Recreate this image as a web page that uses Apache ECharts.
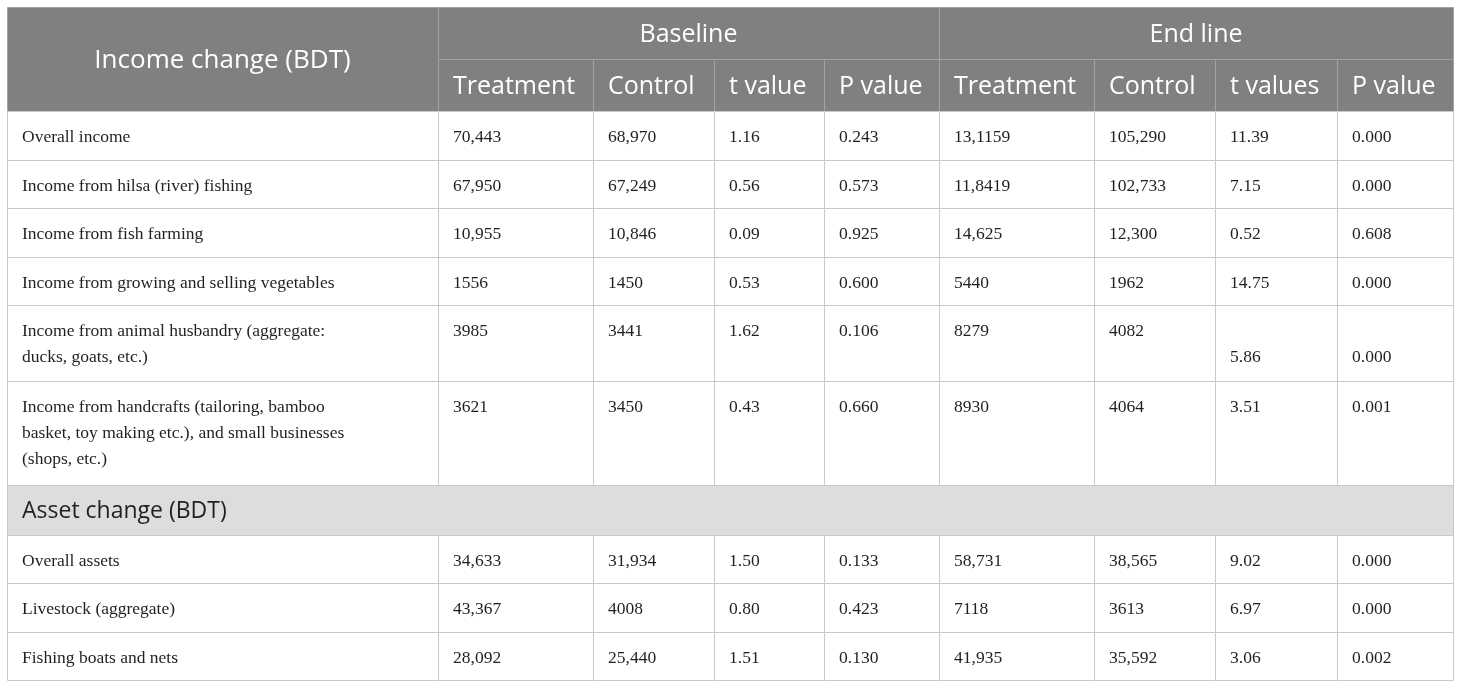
<!DOCTYPE html>
<html>
<head>
<meta charset="utf-8">
<script src="https://cdn.jsdelivr.net/npm/echarts@6/dist/echarts.min.js"></script>
<style>
  html, body { margin: 0; padding: 0; background: #fff; }
  #main { width: 1460px; height: 687px; }
</style>
</head>
<body>
<div id="main"></div>
<script>
/* table data */
const incomeTitle = 'Income change (BDT)';
const assetTitle = 'Asset change (BDT)';
const groupHeaders = ['Baseline', 'End line'];
const subHeaders = ['Treatment', 'Control', 't value', 'P value', 'Treatment', 'Control', 't values', 'P value'];

const incomeLabels = [
    'Overall income',
    'Income from hilsa (river) fishing',
    'Income from fish farming',
    'Income from growing and selling vegetables',
    'Income from animal husbandry (aggregate:\nducks, goats, etc.)',
    'Income from handcrafts (tailoring, bamboo\nbasket, toy making etc.), and small businesses\n(shops, etc.)'
];
const incomeBaseTreatment = ['70,443', '67,950', '10,955', '1556', '3985', '3621'];
const incomeBaseControl = ['68,970', '67,249', '10,846', '1450', '3441', '3450'];
const incomeBaseT = ['1.16', '0.56', '0.09', '0.53', '1.62', '0.43'];
const incomeBaseP = ['0.243', '0.573', '0.925', '0.600', '0.106', '0.660'];
const incomeEndTreatment = ['13,1159', '11,8419', '14,625', '5440', '8279', '8930'];
const incomeEndControl = ['105,290', '102,733', '12,300', '1962', '4082', '4064'];
const incomeEndT = ['11.39', '7.15', '0.52', '14.75', '\n5.86', '3.51'];
const incomeEndP = ['0.000', '0.000', '0.608', '0.000', '\n0.000', '0.001'];

const assetLabels = ['Overall assets', 'Livestock (aggregate)', 'Fishing boats and nets'];
const assetBaseTreatment = ['34,633', '43,367', '28,092'];
const assetBaseControl = ['31,934', '4008', '25,440'];
const assetBaseT = ['1.50', '0.80', '1.51'];
const assetBaseP = ['0.133', '0.423', '0.130'];
const assetEndTreatment = ['58,731', '7118', '41,935'];
const assetEndControl = ['38,565', '3613', '35,592'];
const assetEndT = ['9.02', '6.97', '3.06'];
const assetEndP = ['0.000', '0.000', '0.002'];

/* layout (table units = px offset inside grid) */
const colEdges = [0, 431, 586, 707, 817, 932, 1087, 1208, 1330, 1446];
const rowEdges = [0, 52, 104, 153, 201, 250, 298, 374, 478, 528, 576, 625, 673];

const HEAD = { fill: '#808080', stroke: '#a3a3a3', color: '#ffffff', font: 'Open Sans', size: 25, dy: 2 };
const BODY = { fill: '#ffffff', stroke: '#c9c9c9', color: '#231f20', font: 'Liberation Serif', size: 17.5, dy: 1 };
const SECT = { fill: '#dcdddf', stroke: '#c9c9c9', color: '#231f20', font: 'Open Sans', size: 23, dy: 1 };

let cells = [];
function addCell(c0, c1, r0, r1, text, kind, align) {
    cells.push({
        value: [colEdges[c0], rowEdges[r0], colEdges[c1], rowEdges[r1]],
        text: text, kind: kind, align: align
    });
}

// header
addCell(0, 1, 0, 2, incomeTitle, HEAD, 'center');
addCell(1, 5, 0, 1, groupHeaders[0], HEAD, 'center');
addCell(5, 9, 0, 1, groupHeaders[1], HEAD, 'center');
subHeaders.forEach((s, i) => addCell(i + 1, i + 2, 1, 2, s, HEAD, 'left'));

// body rows
function addRows(startRow, labels, cols) {
    labels.forEach((lab, i) => {
        let r = startRow + i;
        addCell(0, 1, r, r + 1, lab, BODY, 'top');
        cols.forEach((arr, j) => addCell(j + 1, j + 2, r, r + 1, arr[i], BODY, 'top'));
    });
}
addRows(2, incomeLabels, [incomeBaseTreatment, incomeBaseControl, incomeBaseT, incomeBaseP,
    incomeEndTreatment, incomeEndControl, incomeEndT, incomeEndP]);
addCell(0, 9, 8, 9, assetTitle, SECT, 'left');
addRows(9, assetLabels, [assetBaseTreatment, assetBaseControl, assetBaseT, assetBaseP,
    assetEndTreatment, assetEndControl, assetEndT, assetEndP]);

let chart = echarts.init(document.getElementById('main'));
chart.setOption({
    animation: false,
    grid: { left: 7, right: 7, top: 7, bottom: 7 },
    xAxis: { type: 'value', min: 0, max: 1446, show: false },
    yAxis: { type: 'value', min: 0, max: 673, inverse: true, show: false },
    series: [{
        type: 'custom',
        clip: false,
        data: cells.map(c => c.value),
        renderItem: function (params, api) {
            let c = cells[params.dataIndex];
            let p0 = api.coord([api.value(0), api.value(1)]);
            let p1 = api.coord([api.value(2), api.value(3)]);
            let k = c.kind;
            let w = p1[0] - p0[0], h = p1[1] - p0[1];
            let tx, ty, ta = 'left', tv = 'middle';
            let size = k.size;
            if (c.align === 'center') {
                tx = p0[0] + w / 2; ty = p0[1] + h / 2 + k.dy; ta = 'center';
                if (c.text === incomeTitle) size = 26;
            } else if (c.align === 'left') {
                tx = p0[0] + 15; ty = p0[1] + h / 2 + k.dy;
            } else {
                tx = p0[0] + 15; ty = p0[1] + 12 + k.dy; tv = 'top';
            }
            return {
                type: 'group',
                children: [{
                    type: 'rect',
                    shape: { x: p0[0] + 0.5, y: p0[1] + 0.5, width: w, height: h },
                    style: { fill: k.fill, stroke: k.stroke, lineWidth: 1 }
                }, {
                    type: 'text',
                    style: {
                        text: c.text, x: tx, y: ty,
                        align: ta, verticalAlign: tv,
                        fill: k.color, fontFamily: k.font, fontSize: size,
                        lineHeight: k === BODY ? 26 : size * 1.3
                    }
                }]
            };
        }
    }]
});
</script>
</body>
</html>
